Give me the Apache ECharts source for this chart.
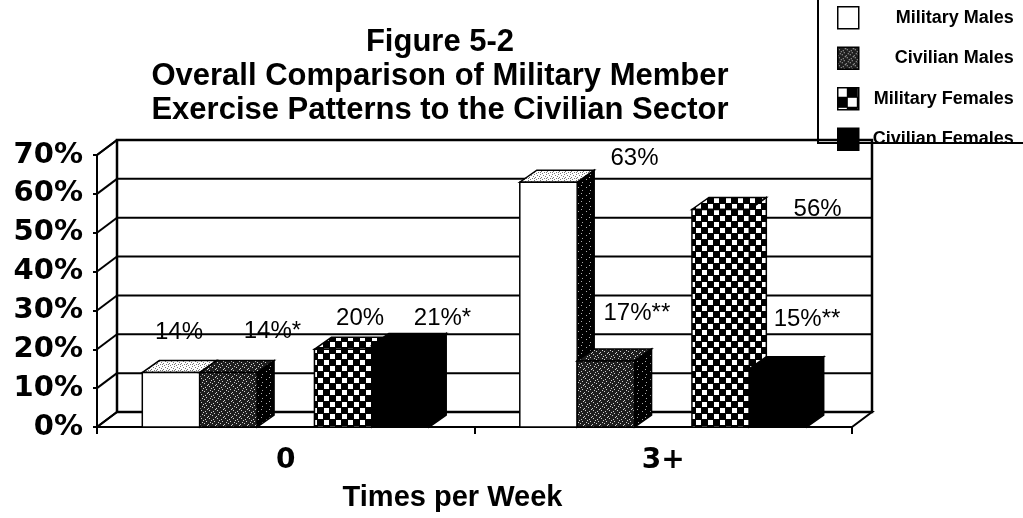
<!DOCTYPE html>
<html>
<head>
<meta charset="utf-8">
<script src="https://cdn.jsdelivr.net/npm/echarts/dist/echarts.min.js"></script>
<style>
html, body { margin: 0; padding: 0; background: #fff; }
#chart { width: 1023px; height: 518px; }
</style>
</head>
<body>
<div id="chart"></div>
<script>
// data
var categories = ['0', '3+'];
var seriesNames = ['Military Males', 'Civilian Males', 'Military Females', 'Civilian Females'];
var militaryMales = [14, 63];
var civilianMales = [14, 17];
var militaryFemales = [20, 56];
var civilianFemales = [21, 15];
var militaryMalesLabels = ['14%', '63%'];
var civilianMalesLabels = ['14%*', '17%**'];
var militaryFemalesLabels = ['20%', '56%'];
var civilianFemalesLabels = ['21%*', '15%**'];
var yTicks = [0, 10, 20, 30, 40, 50, 60, 70];

// 3d look: depth offsets of the walls and of the boxes
var WALL_DX = 20, WALL_DY = -15;
var BAR_DX = 17, BAR_DY = -12;
// slot of each series inside a category band (fraction of band)
var slotStart = [0.12, 0.272, 0.576, 0.728];
var slotWidth = 0.152;
// where excel dropped each data label, relative to the bar's front top
var labelShift = [
    [[8, -40], [86, -24]],
    [[44, -41], [31, -48]],
    [[17, -31], [97, 0]],
    [[42, -27], [29, -49]]
];

// fill patterns
function makeCanvas(w, h, bg, color, pts) {
    var c = document.createElement('canvas');
    c.width = w; c.height = h;
    var g = c.getContext('2d');
    g.fillStyle = bg;
    g.fillRect(0, 0, w, h);
    g.fillStyle = color;
    pts.forEach(function (p) { g.fillRect(p[0], p[1], 1, 1); });
    return c;
}
function makeChecker(n) {
    var c = document.createElement('canvas');
    c.width = n * 2; c.height = n * 2;
    var g = c.getContext('2d');
    g.fillStyle = '#000';
    g.fillRect(0, 0, n * 2, n * 2);
    g.fillStyle = '#fff';
    g.fillRect(0, 0, n - 1, n - 1);
    g.fillRect(n, n, n - 1, n - 1);
    return c;
}
var lightDots = { image: makeCanvas(6, 6, '#fff', '#777', [[0, 0], [3, 1], [1, 3], [4, 4], [2, 5], [5, 2], [0, 4]]), repeat: 'repeat' };
var darkDots = { image: makeCanvas(8, 8, '#1e1e1e', '#cfcfcf', [[1, 2], [4, 7], [7, 1], [6, 5], [2, 6], [5, 3], [0, 0], [3, 4]]), repeat: 'repeat' };
var sideDots = { image: makeCanvas(8, 8, '#000', '#aaa', [[2, 3], [6, 6], [5, 1]]), repeat: 'repeat' };
var checker = { image: makeChecker(6), repeat: 'repeat' };

// front, top, side fill per series
var faceFills = [
    ['#fff', lightDots, sideDots],
    [darkDots, darkDots, sideDots],
    [checker, checker, checker],
    ['#000', '#000', '#000']
];
var legendFills = ['#fff', darkDots, { image: makeChecker(10), repeat: 'repeat' }, '#000'];

var lineStyle = { stroke: '#000', lineWidth: 1.5 };

function renderFrame(params, api) {
    var cs = params.coordSys;
    var v = api.value(0);
    var y = api.coord([0, v])[1];
    var xl = cs.x, xr = cs.x + cs.width;
    var children = [];
    if (params.dataIndex === 0) {
        var yTop = api.coord([0, yTicks[yTicks.length - 1]])[1];
        children.push({
            type: 'polygon',
            shape: { points: [[xl + WALL_DX, yTop + WALL_DY], [xr + WALL_DX, yTop + WALL_DY], [xr + WALL_DX, y + WALL_DY], [xl + WALL_DX, y + WALL_DY]] },
            style: { fill: null, stroke: '#000', lineWidth: 2.5 }
        });
        children.push({
            type: 'polygon',
            shape: { points: [[xl, y], [xr, y], [xr + WALL_DX, y + WALL_DY], [xl + WALL_DX, y + WALL_DY]] },
            style: { fill: null, stroke: '#000', lineWidth: 2 }
        });
        children.push({
            type: 'line',
            shape: { x1: xl, y1: yTop, x2: xl + WALL_DX, y2: yTop + WALL_DY },
            style: { stroke: '#000', lineWidth: 2 }
        });
    }
    children.push({
        type: 'line',
        shape: { x1: xl + WALL_DX, y1: y + WALL_DY, x2: xr + WALL_DX, y2: y + WALL_DY },
        style: { stroke: '#000', lineWidth: 2 }
    });
    children.push({
        type: 'line',
        shape: { x1: xl, y1: y, x2: xl + WALL_DX, y2: y + WALL_DY },
        style: { stroke: '#000', lineWidth: 2 }
    });
    return { type: 'group', children: children };
}

function barSeries(idx, values, labels) {
    return {
        type: 'custom',
        name: seriesNames[idx],
        itemStyle: { color: legendFills[idx] },
        data: values.map(function (v, i) { return [i, v]; }),
        renderItem: function (params, api) {
            var ci = api.value(0), v = api.value(1);
            var base = api.coord([ci, 0]);
            var top = api.coord([ci, v]);
            var band = api.size([1, 0])[0];
            var x0 = base[0] - band / 2 + band * slotStart[idx];
            var x1 = x0 + band * slotWidth;
            var y0 = base[1], y1 = top[1];
            var f = faceFills[idx];
            var sh = labelShift[idx][ci];
            return {
                type: 'group',
                children: [
                    {
                        type: 'polygon',
                        shape: { points: [[x1, y1], [x1 + BAR_DX, y1 + BAR_DY], [x1 + BAR_DX, y0 + BAR_DY], [x1, y0]] },
                        style: echarts.util.extend({ fill: f[2] }, lineStyle)
                    },
                    {
                        type: 'polygon',
                        shape: { points: [[x0, y1], [x1, y1], [x1 + BAR_DX, y1 + BAR_DY], [x0 + BAR_DX, y1 + BAR_DY]] },
                        style: echarts.util.extend({ fill: f[1] }, lineStyle)
                    },
                    {
                        type: 'rect',
                        shape: { x: x0, y: y1, width: x1 - x0, height: y0 - y1 },
                        style: echarts.util.extend({ fill: f[0] }, lineStyle)
                    },
                    {
                        type: 'text',
                        style: {
                            text: labels[ci],
                            x: (x0 + x1) / 2 + sh[0],
                            y: y1 + sh[1],
                            align: 'center',
                            verticalAlign: 'middle',
                            font: '24px "Liberation Sans", Arial, sans-serif',
                            fill: '#000'
                        }
                    }
                ]
            };
        }
    };
}

var chart = echarts.init(document.getElementById('chart'));
var option = {
    backgroundColor: '#fff',
    animation: false,
    title: {
        text: 'Figure 5-2\nOverall Comparison of Military Member\nExercise Patterns to the Civilian Sector',
        left: 440,
        top: 25,
        textAlign: 'center',
        padding: 0,
        textStyle: {
            fontFamily: '"Liberation Sans", Arial, sans-serif',
            fontWeight: 'bold',
            fontSize: 31,
            lineHeight: 34,
            color: '#000'
        }
    },
    legend: {
        data: seriesNames,
        orient: 'vertical',
        left: 837,
        top: 6,
        padding: 0,
        icon: 'rect',
        itemWidth: 21,
        itemHeight: 22,
        itemGap: 17,
        selectedMode: false,
        itemStyle: { borderColor: '#000', borderWidth: 1.5 },
        formatter: function (name) { return '{r|' + name + '}'; },
        textStyle: {
            rich: {
                r: {
                    width: 150,
                    align: 'right',
                    fontFamily: '"Liberation Sans", Arial, sans-serif',
                    fontWeight: 'bold',
                    fontSize: 18,
                    color: '#000'
                }
            }
        }
    },
    graphic: [{
        type: 'rect',
        z: -1,
        shape: { x: 818, y: -5, width: 220, height: 148 },
        style: { fill: '#fff', stroke: '#000', lineWidth: 2 }
    }],
    grid: {
        left: 97,
        right: 171,
        top: 155,
        bottom: 91,
        outerBoundsMode: 'none'
    },
    xAxis: {
        type: 'category',
        data: categories,
        name: 'Times per Week',
        nameLocation: 'middle',
        nameGap: 56,
        nameTextStyle: {
            fontFamily: '"Liberation Sans", Arial, sans-serif',
            fontWeight: 'bold',
            fontSize: 29,
            color: '#000',
            padding: [0, 44, 0, 0]
        },
        axisLine: { lineStyle: { color: '#000', width: 2 } },
        axisTick: { show: true, length: 7, lineStyle: { color: '#000', width: 2 } },
        axisLabel: {
            margin: 20,
            fontFamily: '"DejaVu Sans", sans-serif',
            fontWeight: 'bold',
            fontSize: 28,
            color: '#000'
        },
        splitLine: { show: false }
    },
    yAxis: {
        type: 'value',
        min: 0,
        max: 70,
        interval: 10,
        axisLine: { show: true, lineStyle: { color: '#000', width: 2 } },
        axisTick: { show: true, length: 4, lineStyle: { color: '#000', width: 2 } },
        axisLabel: {
            formatter: '{value}%',
            margin: 14,
            fontFamily: '"DejaVu Sans", sans-serif',
            fontWeight: 'bold',
            fontSize: 29,
            color: '#000'
        },
        splitLine: { show: false }
    },
    series: [
        {
            type: 'custom',
            name: 'frame',
            silent: true,
            data: yTicks.map(function (t) { return [t]; }),
            renderItem: renderFrame
        },
        barSeries(0, militaryMales, militaryMalesLabels),
        barSeries(1, civilianMales, civilianMalesLabels),
        barSeries(2, militaryFemales, militaryFemalesLabels),
        barSeries(3, civilianFemales, civilianFemalesLabels)
    ]
};
chart.setOption(option);
</script>
</body>
</html>
